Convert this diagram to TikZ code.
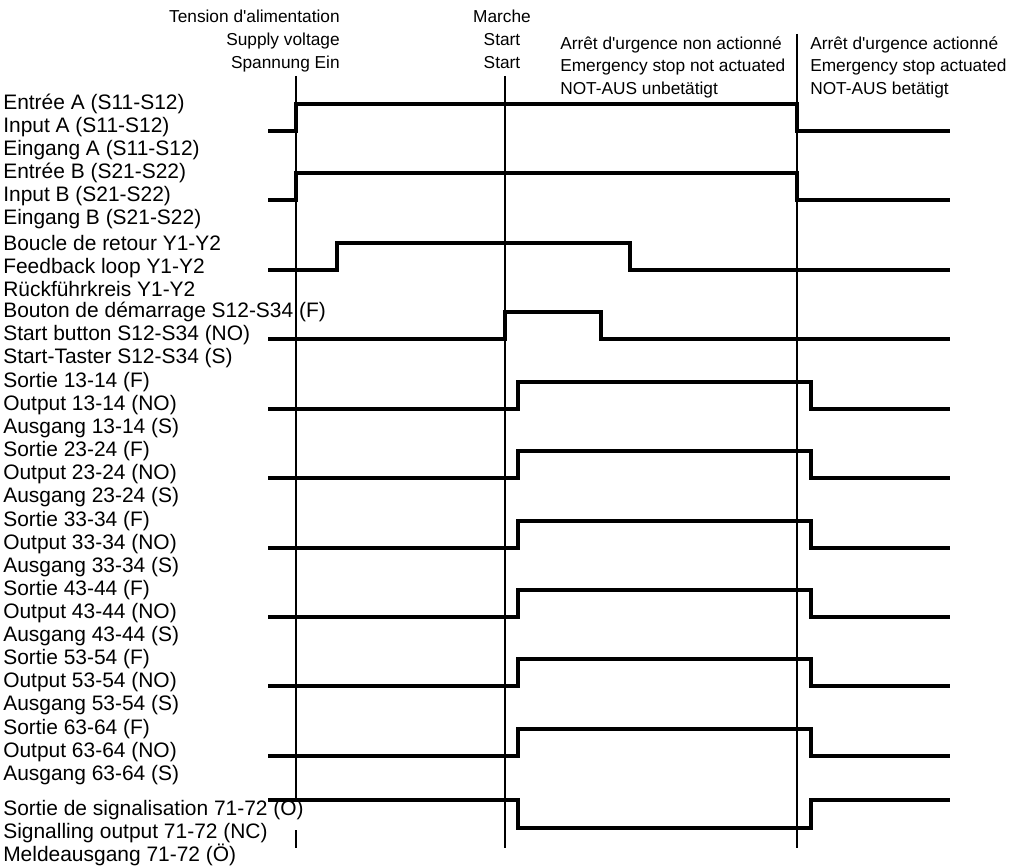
\documentclass[tikz,border=0pt]{standalone}
\usepackage{fontspec}
\newfontfamily\diagfont{Liberation Sans}
\usepackage{tikz}
\usetikzlibrary{positioning}

\begin{document}
\begin{tikzpicture}[x=0.025cm, y=-0.025cm]
  \tikzset{
    wave/.style={
      line width=3pt,
      line join=miter
    },
    refline/.style={
      line width=1.1pt
    },
    rowlabel/.style={
      anchor=west,
      align=left,
      inner sep=0pt,
      font=\diagfont\fontsize{14.9}{16.2}\selectfont
    },
    header/.style={
      inner sep=0pt,
      font=\diagfont\fontsize{12.3}{16.3}\selectfont
    }
  }
  \useasboundingbox (0,0) rectangle (1009,867);

  % Event headers
  \node[header, align=right, anchor=north east] at (340, 10) (hdrSupply) {
    Tension d'alimentation\\ Supply voltage\\ Spannung Ein
  };
  \node[header, align=center, anchor=north] at (502, 10) (hdrStart) {
    Marche\\ Start\\ Start
  };
  \node[header, align=left, anchor=north west] at (560, 36) (hdrRun) {
    Arrêt d'urgence non actionné\\ Emergency stop not actuated\\ NOT-AUS unbetätigt
  };
  \node[header, align=left, anchor=north west] at (810, 36) (hdrStop) {
    Arrêt d'urgence actionné\\ Emergency stop actuated\\ NOT-AUS betätigt
  };

  % Time markers
  \coordinate (supplyTop) at (296, 76);
  \coordinate (supplyCut) at (296, 802);
  \coordinate (supplyRes) at (296, 830);
  \coordinate (supplyBot) at (296, 848);
  \coordinate (startTop) at (505, 76);
  \coordinate (startBot) at (505, 848);
  \coordinate (stopTop) at (797, 34);
  \coordinate (stopBot) at (797, 848);
  \draw[refline] (supplyTop) -- (supplyCut);
  \draw[refline] (supplyRes) -- (supplyBot);
  \draw[refline] (startTop) -- (startBot);
  \draw[refline] (stopTop) -- (stopBot);

  % Row labels
  \node[rowlabel] at (3, 127) (lblInA) {
    Entrée A (S11-S12)\\ Input A (S11-S12)\\ Eingang A (S11-S12)
  };
  \node[rowlabel] at (3, 196) (lblInB) {
    Entrée B (S21-S22)\\ Input B (S21-S22)\\ Eingang B (S21-S22)
  };
  \node[rowlabel] at (3, 266) (lblLoop) {
    Boucle de retour Y1-Y2\\ Feedback loop Y1-Y2\\ Rückführkreis Y1-Y2
  };
  \node[rowlabel] at (3, 335) (lblButton) {
    Bouton de démarrage S12-S34 (F)\\ Start button S12-S34 (NO)\\ Start-Taster S12-S34 (S)
  };
  \node[rowlabel] at (3, 405) (lblOut13) {
    Sortie 13-14 (F)\\ Output 13-14 (NO)\\ Ausgang 13-14 (S)
  };
  \node[rowlabel] at (3, 474) (lblOut23) {
    Sortie 23-24 (F)\\ Output 23-24 (NO)\\ Ausgang 23-24 (S)
  };
  \node[rowlabel] at (3, 544) (lblOut33) {
    Sortie 33-34 (F)\\ Output 33-34 (NO)\\ Ausgang 33-34 (S)
  };
  \node[rowlabel] at (3, 613) (lblOut43) {
    Sortie 43-44 (F)\\ Output 43-44 (NO)\\ Ausgang 43-44 (S)
  };
  \node[rowlabel] at (3, 682) (lblOut53) {
    Sortie 53-54 (F)\\ Output 53-54 (NO)\\ Ausgang 53-54 (S)
  };
  \node[rowlabel] at (3, 752) (lblOut63) {
    Sortie 63-64 (F)\\ Output 63-64 (NO)\\ Ausgang 63-64 (S)
  };
  \node[rowlabel] at (3, 833) (lblSignal) {
    Sortie de signalisation 71-72 (O)\\ Signalling output 71-72 (NC)\\ Meldeausgang 71-72 (Ö)
  };

  % Waveforms
  \draw[wave] (268,131) -- (296,131) -- (296,104) -- (797,104) -- (797,131) -- (950,131);
  \draw[wave] (268,200) -- (296,200) -- (296,173) -- (797,173) -- (797,200) -- (950,200);
  \draw[wave] (268,270) -- (337,270) -- (337,243) -- (630,243) -- (630,270) -- (950,270);
  \draw[wave] (268,339) -- (505,339) -- (505,312) -- (601,312) -- (601,339) -- (950,339);
  \draw[wave] (268,409) -- (518,409) -- (518,382) -- (811,382) -- (811,409) -- (950,409);
  \draw[wave] (268,478) -- (518,478) -- (518,451) -- (811,451) -- (811,478) -- (950,478);
  \draw[wave] (268,548) -- (518,548) -- (518,521) -- (811,521) -- (811,548) -- (950,548);
  \draw[wave] (268,617) -- (518,617) -- (518,590) -- (811,590) -- (811,617) -- (950,617);
  \draw[wave] (268,686) -- (518,686) -- (518,659) -- (811,659) -- (811,686) -- (950,686);
  \draw[wave] (268,756) -- (518,756) -- (518,729) -- (811,729) -- (811,756) -- (950,756);
  \draw[wave] (268,800) -- (518,800) -- (518,828) -- (811,828) -- (811,800) -- (950,800);

\end{tikzpicture}
\end{document}
